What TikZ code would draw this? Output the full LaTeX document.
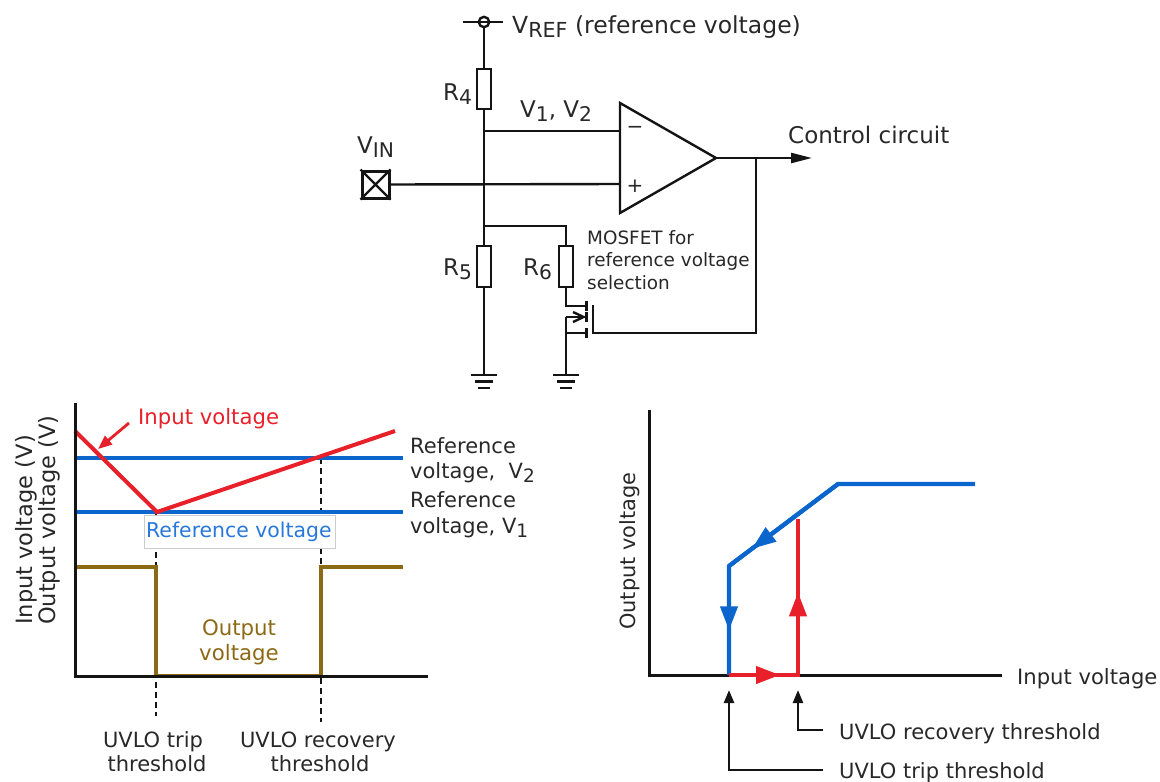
\documentclass[tikz,border=0pt]{standalone}
\usepackage{fontspec}
\setmainfont{DejaVu Sans}
\usetikzlibrary{arrows.meta,decorations.markings}
\definecolor{ink}{RGB}{20,20,20}
\definecolor{txtc}{RGB}{40,40,40}
\definecolor{redC}{RGB}{232,32,42}
\definecolor{blueC}{RGB}{10,102,204}
\definecolor{brownC}{RGB}{140,105,20}
\definecolor{reftext}{RGB}{40,120,220}
\definecolor{boxgray}{RGB}{205,205,205}
\newcommand\lowsub[1]{\raisebox{-0.2em}{\scalebox{0.88}{#1}}}
\newcommand\fcirc{\fontsize{23}{27}\selectfont}
\newcommand\fchart{\fontsize{21}{25}\selectfont}
\newcommand\fsmall{\fontsize{18.4}{22}\selectfont}
\begin{document}
\begin{tikzpicture}[x=1pt,y=-1pt,
  wire/.style={draw=ink,line width=2.4pt},
  resist/.style={draw=ink,line width=2.4pt,fill=white,minimum width=14pt,minimum height=40pt,inner sep=0pt},
  txt/.style={inner sep=0pt,text=txtc,anchor=base west},
  axis/.style={draw=ink,line width=3pt},
  dashln/.style={draw=ink,line width=2.4pt,dash pattern=on 6pt off 4pt},
  redline/.style={draw=redC,line width=4pt},
  blueline/.style={draw=blueC,line width=4.2pt},
  brownline/.style={draw=brownC,line width=4pt},
  midarrow/.style={postaction={decorate},decoration={markings,
     mark=at position #1 with {\arrow{Triangle[length=24pt,width=17pt]}}}},
  gnd/.pic={\draw[line width=2.4pt,ink] (-13,0)--(13,0) (-9,6.5)--(9,6.5) (-6,13)--(6,13);}
]
\useasboundingbox (0,0) rectangle (1160,782);

% ================= circuit =================
\coordinate (vref) at (484,22);
\draw[wire] (463,22) -- (503,22);
\draw[wire] (vref) circle (5.2);
\node[txt,font=\fontsize{23.5}{27}\selectfont] (vreflbl) at (512,33) {V\lowsub{REF} (reference voltage)};

\node[resist] (R4) at (484,89) {};
\node[resist,minimum height=41pt] (R5) at (484,266.5) {};
\node[resist,minimum height=41pt] (R6) at (566,266.5) {};
\node[txt,font=\fcirc] (R4l) at (443,100) {R\lowsub{4}};
\node[txt,font=\fcirc] (R5l) at (443,275) {R\lowsub{5}};
\node[txt,font=\fcirc] (R6l) at (523,275) {R\lowsub{6}};

\coordinate (nV1) at (484,131);
\coordinate (nIN) at (484,184);
\coordinate (nR6) at (484,226);
\coordinate (g1) at (484,375);
\coordinate (g2) at (566,375);

\draw[wire] (484,27.2) -- (R4.north);
\draw[wire] (R4.south) -- (R5.north);
\draw[wire] (R5.south) -- (g1);
\pic at (g1) {gnd};
\pic at (g2) {gnd};

% op-amp
\coordinate (opA) at (620,103);
\coordinate (opO) at (716,158);
\coordinate (opB) at (620,213);
\coordinate (opM) at (620,131);
\coordinate (opP) at (620,184);
\draw[wire,line join=miter] (opA) -- (opO) -- (opB) -- cycle;
\node[inner sep=0pt,text=txtc,font=\fontsize{20}{24}\selectfont] (minus) at (635,130) {−};
\node[inner sep=0pt,text=txtc,font=\fontsize{20}{24}\selectfont] (plus) at (635,186) {+};

\draw[wire] (nV1) -- (opM);
\node[txt,font=\fcirc] (v12) at (520,117) {V\lowsub{1}, V\lowsub{2}};

% VIN
\node[draw=ink,line width=3pt,minimum size=27pt,inner sep=0pt] (vin) at (375.5,184.5) {};
\draw[ink,line width=2.2pt] (vin.north west) -- (vin.south east) (vin.north east) -- (vin.south west);
\node[txt,font=\fcirc] (vinl) at (357,153) {V\lowsub{IN}};
\draw[wire] (vin.east) -- (opP);

% output
\coordinate (ctrl) at (812,158);
\coordinate (fb) at (756,158);
\draw[wire,-{Triangle[length=21pt,width=10pt]}] (opO) -- (ctrl);
\node[txt,font=\fcirc] (ctrll) at (788,143) {Control circuit};

% R6 branch and MOSFET
\draw[wire] (nR6) -- (566,226) -- (R6.north);
\coordinate (dr) at (566,306);
\draw[wire] (R6.south) -- (dr) -- (586,306);
\draw[ink,line width=3pt] (586,300.5) -- (586,310.5) (586,312) -- (586,322) (586,328) -- (586,338);
\draw[wire] (566,317) -- (586,317);
\draw[wire,line join=miter] (573,312) -- (583.5,317) -- (573,322);
\draw[wire] (566,333) -- (586,333);
\draw[wire] (566,317) -- (g2);
\coordinate (gt) at (593,305);
\draw[wire] (fb) -- (756,333) -- (593,333) -- (gt);
\node[txt,font=\fsmall] (mos1) at (587,244) {MOSFET for};
\node[txt,font=\fsmall] (mos2) at (587,266.5) {reference voltage};
\node[txt,font=\fsmall] (mos3) at (587,289) {selection};

% ================= left chart =================
\coordinate (LO) at (75,676);
\coordinate (LY) at (75,403);
\coordinate (LX) at (428,676);
\draw[dashln] (156,512) -- (156,716);
\draw[dashln] (321,458) -- (321,722);
\draw[blueline] (75,458) -- (403,458);
\draw[blueline] (75,512) -- (403,512);
\draw[redline,line join=miter] (75,431) -- (157,512) -- (395,431);
\draw[redC,line width=2.8pt,-{Triangle[length=14pt,width=11pt]}] (129,423) -- (98,449);
\node[txt,text=redC,font=\fontsize{21.2}{25}\selectfont] (inl) at (138,424) {Input voltage};

\node[draw=boxgray,line width=1pt,fill=white,minimum width=191pt,minimum height=33pt,inner sep=0pt] (refbox) at (239.5,531.5) {};
\node[txt,text=reftext,font=\fontsize{20.4}{24}\selectfont] (refl) at (146,537) {Reference voltage};

\draw[brownline,line join=miter] (75,567) -- (156,567) -- (156,676) -- (321,676) -- (321,567) -- (403,567);
\draw[axis] (LY) -- (LO) -- (LX);

\node[txt,font=\fchart] (r2a) at (410,453) {Reference};
\node[txt,font=\fchart] (r2b) at (410,478) {voltage,~~V\lowsub{2}};
\node[txt,font=\fchart] (r1a) at (410,507) {Reference};
\node[txt,font=\fchart] (r1b) at (410,533) {voltage, V\lowsub{1}};

\node[inner sep=0pt,anchor=base,text=brownC,font=\fontsize{21.3}{25}\selectfont] (o1) at (239,635) {Output};
\node[inner sep=0pt,anchor=base,text=brownC,font=\fontsize{21.3}{25}\selectfont] (o2) at (239,660) {voltage};

\node[inner sep=0pt,anchor=base,text=txtc,font=\fchart] (t1) at (153,747) {UVLO trip};
\node[inner sep=0pt,anchor=base,text=txtc,font=\fchart] (t2) at (157,771) {threshold};
\node[inner sep=0pt,anchor=base,text=txtc,font=\fchart] (t3) at (318,747) {UVLO recovery};
\node[inner sep=0pt,anchor=base,text=txtc,font=\fchart] (t4) at (320,771) {threshold};

\node[txt,rotate=90,font=\fontsize{22.5}{26}\selectfont] (yl1) at (32,625) {Input voltage (V)};
\node[txt,rotate=90,font=\fontsize{22.5}{26}\selectfont] (yl2) at (55,625) {Output voltage (V)};

% ================= right chart =================
\coordinate (RO) at (649,675);
\coordinate (RY) at (649,410);
\coordinate (RX) at (1002,675);
\draw[axis] (RY) -- (RO) -- (RX);
\coordinate (bA) at (975,484);
\coordinate (bB) at (838,484);
\coordinate (bC) at (729,566);
\coordinate (bD) at (729,675);
\coordinate (rB) at (798,675);
\coordinate (rC) at (798,519);
\draw[blueline,line join=miter] (bA) -- (bB) -- (bC) -- (bD);
\draw[blueline,blueC,midarrow=0.79] (bB) -- (bC);
\draw[blueline,blueC,midarrow=0.59] (bC) -- (bD);
\draw[redline,line join=miter] (bD) -- (rB) -- (rC);
\draw[redline,redC,midarrow=0.74] (bD) -- (rB);
\draw[redline,redC,midarrow=0.53] (rB) -- (rC);

\node[txt,font=\fontsize{21.1}{25}\selectfont] (ivl) at (1017,684) {Input voltage};
\node[txt,rotate=90,font=\fontsize{20.9}{25}\selectfont] (ovl) at (635,630) {Output voltage};

\coordinate (recL) at (823,730);
\coordinate (tripL) at (823,770);
\draw[wire,-{Triangle[length=13pt,width=10pt]}] (recL) -- (798,730) -- (798,690);
\draw[wire,-{Triangle[length=13pt,width=10pt]}] (tripL) -- (729,770) -- (729,690);
\node[txt,font=\fontsize{21}{25}\selectfont] (recT) at (839,739) {UVLO recovery threshold};
\node[txt,font=\fontsize{21}{25}\selectfont] (tripT) at (839,778) {UVLO trip threshold};
\end{tikzpicture}
\end{document}
